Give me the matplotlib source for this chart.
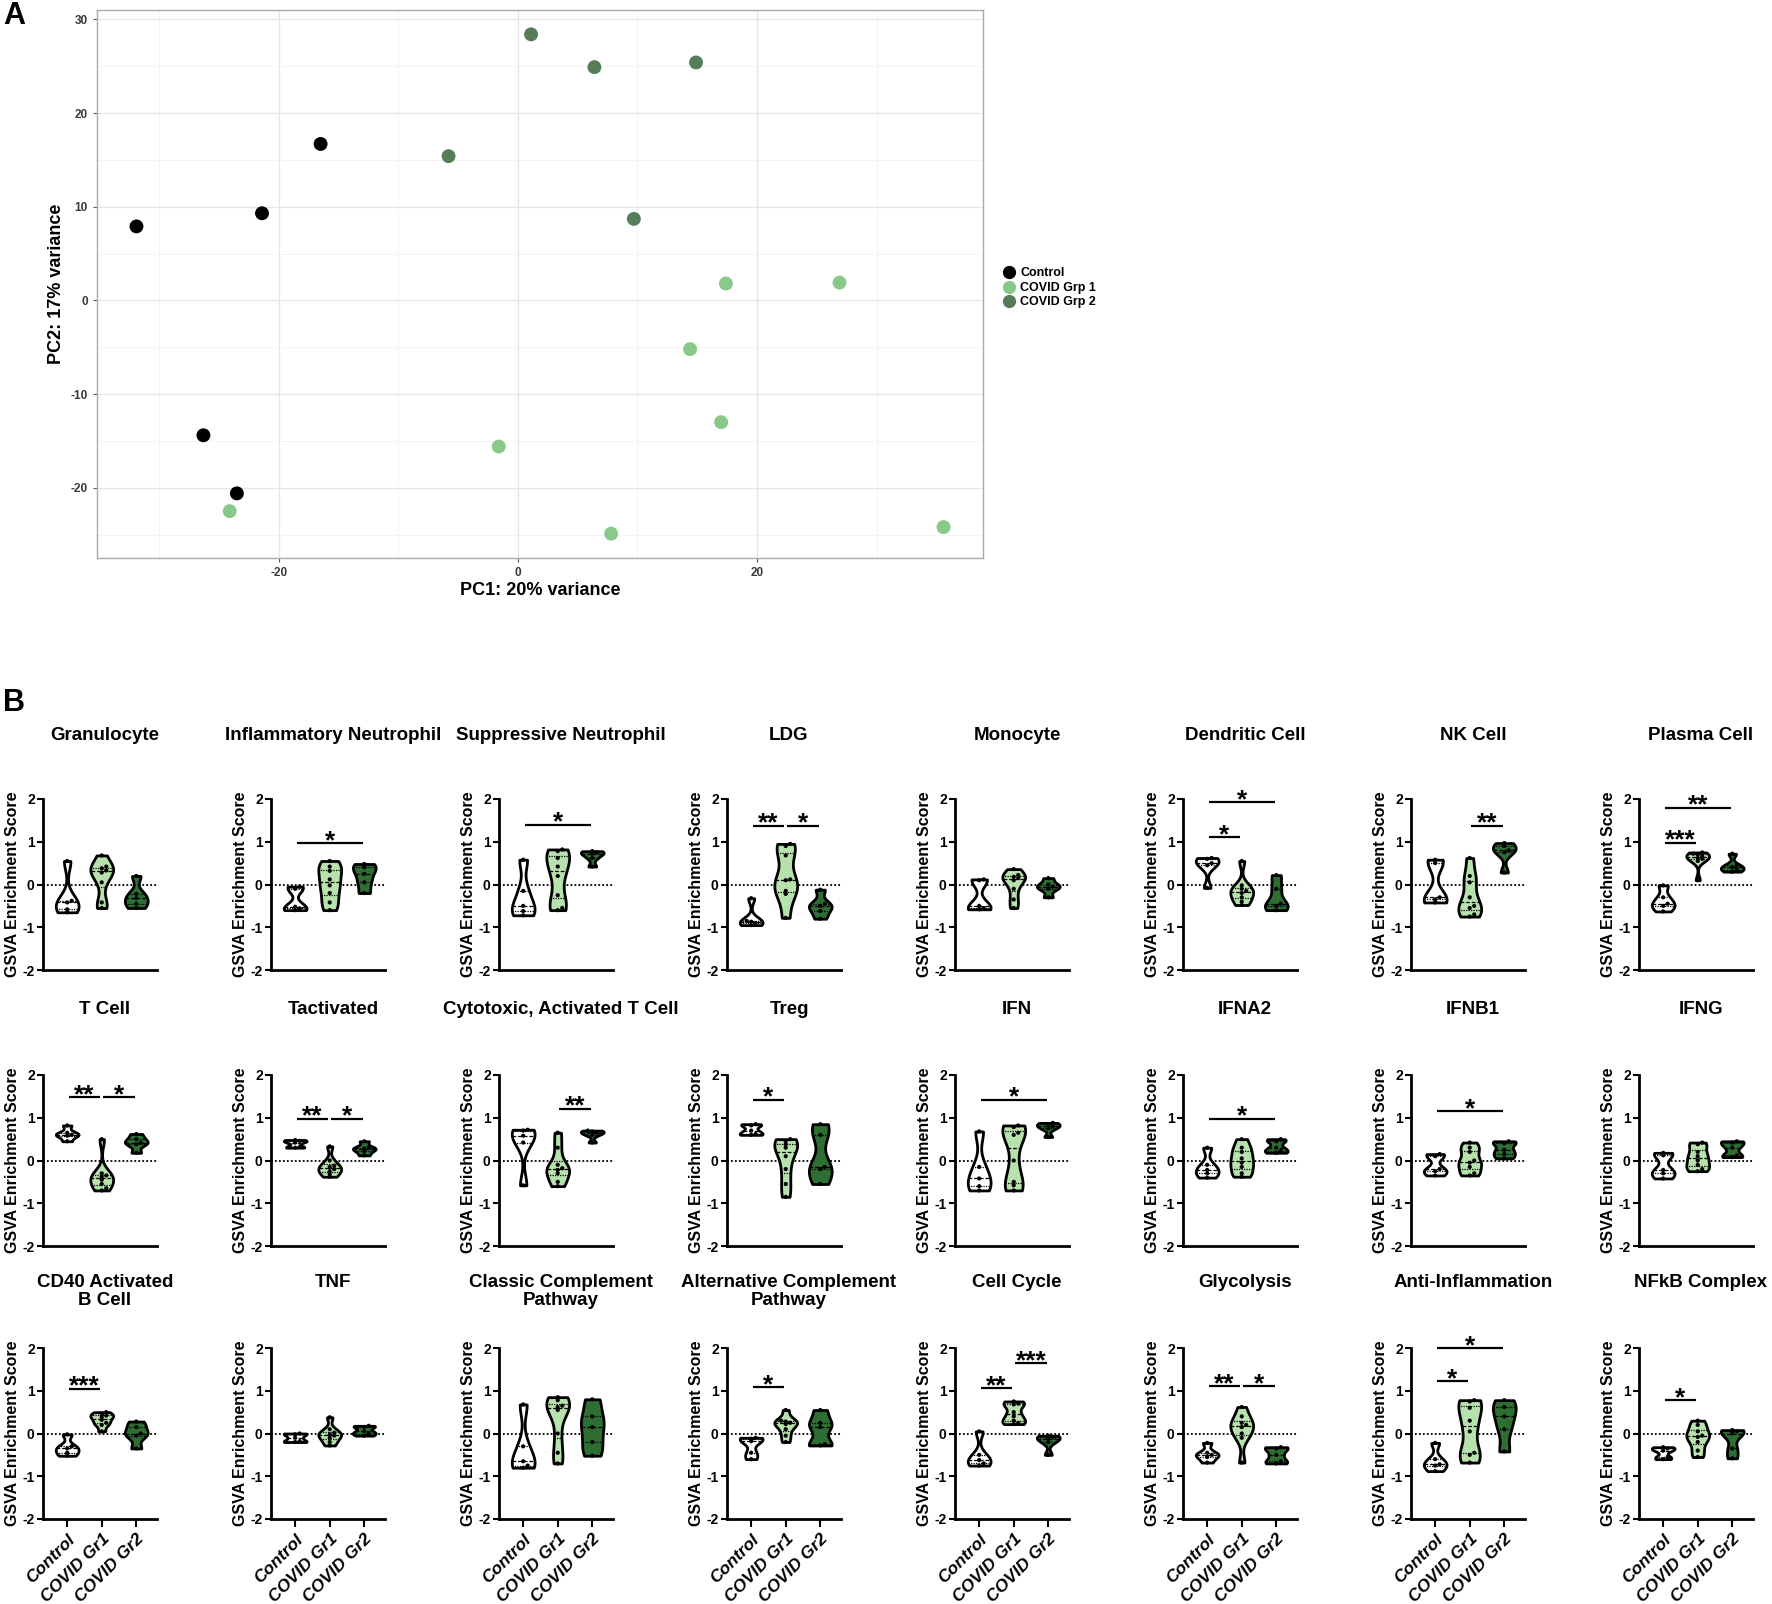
import numpy as np
import matplotlib
matplotlib.use('Agg')
import matplotlib.pyplot as plt
from matplotlib import cbook, mlab
from matplotlib.lines import Line2D

plt.rcParams['font.family'] = ['Liberation Sans', 'DejaVu Sans']
plt.rcParams['axes.unicode_minus'] = False

W, H = 1772, 1604

# ---------------- panel A: PCA ----------------
ctrl_pc1 = [-16.5, -21.4, -31.9, -26.3, -23.5]
ctrl_pc2 = [16.7, 9.3, 7.9, -14.4, -20.6]
grp1_pc1 = [17.4, 26.9, 14.4, 17.0, -1.6, -24.1, 7.8, 35.6]
grp1_pc2 = [1.8, 1.9, -5.2, -13.0, -15.6, -22.5, -24.9, -24.2]
grp2_pc1 = [1.1, 6.4, 14.9, -5.8, 9.7]
grp2_pc2 = [28.4, 24.9, 25.4, 15.4, 8.7]
pca_labels = ['Control', 'COVID Grp 1', 'COVID Grp 2']
pca_colors = ['#000000', '#88c98a', '#567d58']

# ---------------- panel B: GSVA violins ----------------
groups = ['Control', 'COVID Gr1', 'COVID Gr2']
titles = ['Granulocyte', 'Inflammatory Neutrophil', 'Suppressive Neutrophil', 'LDG',
          'Monocyte', 'Dendritic Cell', 'NK Cell', 'Plasma Cell',
          'T Cell', 'Tactivated', 'Cytotoxic, Activated T Cell', 'Treg',
          'IFN', 'IFNA2', 'IFNB1', 'IFNG',
          'CD40 Activated\nB Cell', 'TNF', 'Classic Complement\nPathway',
          'Alternative Complement\nPathway',
          'Cell Cycle', 'Glycolysis', 'Anti-Inflammation', 'NFkB Complex']

ctrl_scores = [
    [0.55, -0.38, -0.42, -0.58, -0.65],
    [-0.05, -0.1, -0.52, -0.56, -0.6],
    [0.58, -0.15, -0.5, -0.62, -0.72],
    [-0.32, -0.85, -0.87, -0.9, -0.95],
    [0.12, 0.1, -0.5, -0.55, -0.58],
    [0.62, 0.6, 0.5, 0.45, -0.08],
    [0.58, 0.5, -0.3, -0.35, -0.42],
    [-0.02, -0.3, -0.45, -0.5, -0.63],
    [0.82, 0.65, 0.6, 0.58, 0.45],
    [0.48, 0.46, 0.42, 0.32, 0.3],
    [0.72, 0.7, 0.58, 0.42, -0.58],
    [0.85, 0.82, 0.7, 0.62, 0.6],
    [0.68, -0.15, -0.42, -0.6, -0.7],
    [0.3, -0.1, -0.22, -0.3, -0.4],
    [0.15, 0.1, -0.2, -0.25, -0.35],
    [0.18, 0.12, -0.22, -0.3, -0.42],
    [-0.02, -0.3, -0.35, -0.45, -0.52],
    [0.0, -0.02, -0.1, -0.18, -0.2],
    [0.68, -0.3, -0.65, -0.75, -0.8],
    [-0.1, -0.12, -0.18, -0.45, -0.6],
    [0.05, -0.5, -0.62, -0.7, -0.75],
    [-0.22, -0.45, -0.5, -0.55, -0.68],
    [-0.22, -0.6, -0.72, -0.75, -0.88],
    [-0.32, -0.35, -0.4, -0.55, -0.6],
]
gr1_scores = [
    [0.68, 0.42, 0.38, 0.33, 0.28, 0.05, -0.42, -0.55],
    [0.55, 0.42, 0.32, 0.12, -0.02, -0.2, -0.42, -0.6],
    [0.82, 0.78, 0.62, 0.42, 0.2, -0.25, -0.55, -0.6],
    [0.95, 0.9, 0.68, 0.12, 0.1, -0.15, -0.22, -0.78],
    [0.36, 0.22, 0.18, 0.15, 0.1, -0.1, -0.35, -0.55],
    [0.55, -0.02, -0.1, -0.15, -0.2, -0.3, -0.4, -0.48],
    [0.62, 0.2, 0.05, -0.3, -0.5, -0.55, -0.7, -0.75],
    [0.75, 0.72, 0.7, 0.66, 0.62, 0.6, 0.55, 0.1],
    [0.5, -0.3, -0.35, -0.38, -0.45, -0.55, -0.65, -0.7],
    [0.33, 0.0, -0.12, -0.15, -0.2, -0.25, -0.32, -0.38],
    [0.65, 0.3, -0.1, -0.18, -0.22, -0.3, -0.5, -0.6],
    [0.5, 0.45, 0.38, 0.3, 0.1, -0.2, -0.55, -0.85],
    [0.82, 0.78, 0.65, 0.6, 0.0, -0.5, -0.58, -0.7],
    [0.5, 0.3, 0.2, 0.05, -0.05, -0.15, -0.3, -0.38],
    [0.42, 0.3, 0.2, 0.0, -0.05, -0.15, -0.3, -0.35],
    [0.42, 0.38, 0.2, 0.1, 0.0, -0.1, -0.2, -0.25],
    [0.5, 0.45, 0.42, 0.38, 0.32, 0.25, 0.2, 0.05],
    [0.38, 0.1, 0.02, -0.02, -0.05, -0.1, -0.2, -0.28],
    [0.85, 0.78, 0.65, 0.62, 0.55, 0.0, -0.45, -0.7],
    [0.55, 0.3, 0.28, 0.25, 0.22, 0.1, -0.05, -0.2],
    [0.75, 0.7, 0.68, 0.5, 0.4, 0.3, 0.25, 0.22],
    [0.62, 0.4, 0.25, 0.2, 0.15, 0.0, -0.1, -0.68],
    [0.78, 0.75, 0.6, 0.3, 0.05, -0.45, -0.5, -0.68],
    [0.3, 0.2, 0.05, -0.05, -0.08, -0.2, -0.4, -0.55],
]
gr2_scores = [
    [0.2, -0.22, -0.32, -0.45, -0.55],
    [0.48, 0.4, 0.25, 0.05, -0.2],
    [0.78, 0.75, 0.72, 0.62, 0.42],
    [-0.12, -0.45, -0.5, -0.62, -0.8],
    [0.15, 0.0, -0.05, -0.1, -0.3],
    [0.22, -0.1, -0.45, -0.5, -0.6],
    [0.97, 0.9, 0.8, 0.75, 0.28],
    [0.72, 0.45, 0.4, 0.35, 0.3],
    [0.62, 0.5, 0.42, 0.38, 0.18],
    [0.45, 0.3, 0.28, 0.22, 0.12],
    [0.7, 0.68, 0.65, 0.6, 0.42],
    [0.85, 0.6, -0.15, -0.2, -0.55],
    [0.88, 0.85, 0.8, 0.75, 0.55],
    [0.5, 0.45, 0.3, 0.22, 0.18],
    [0.45, 0.4, 0.25, 0.15, 0.05],
    [0.45, 0.42, 0.3, 0.12, 0.08],
    [0.28, 0.15, 0.0, -0.05, -0.35],
    [0.18, 0.15, 0.05, 0.0, -0.05],
    [0.8, 0.4, 0.15, -0.2, -0.52],
    [0.55, 0.25, 0.15, -0.25, -0.28],
    [-0.05, -0.08, -0.12, -0.2, -0.5],
    [-0.32, -0.35, -0.5, -0.65, -0.7],
    [0.78, 0.62, 0.4, 0.1, -0.42],
    [0.08, 0.05, 0.0, -0.35, -0.58],
]
# (group a, group b, bar height, stars)
sig_bars = [
    [], [(0, 2, 0.97, '*')], [(0, 2, 1.4, '*')],
    [(0, 1, 1.38, '**'), (1, 2, 1.38, '*')],
    [], [(0, 1, 1.1, '*'), (0, 2, 1.92, '*')], [(1, 2, 1.37, '**')],
    [(0, 1, 0.98, '***'), (0, 2, 1.8, '**')],
    [(0, 1, 1.48, '**'), (1, 2, 1.48, '*')],
    [(0, 1, 0.98, '**'), (1, 2, 0.98, '*')],
    [(1, 2, 1.21, '**')], [(0, 1, 1.42, '*')],
    [(0, 2, 1.42, '*')], [(0, 2, 0.98, '*')], [(0, 2, 1.15, '*')], [],
    [(0, 1, 1.05, '***')], [], [], [(0, 1, 1.08, '*')],
    [(0, 1, 1.06, '**'), (1, 2, 1.64, '***')],
    [(0, 1, 1.1, '**'), (1, 2, 1.1, '*')],
    [(0, 1, 1.22, '*'), (0, 2, 2.0, '*')],
    [(0, 1, 0.78, '*')],
]
violin_fill = ['#ffffff', '#b7e1ad', '#2e6e33']

fig = plt.figure(figsize=(W / 100, H / 100), dpi=100)


def px_axes(left, top, width, height):
    return fig.add_axes([left / W, 1 - (top + height) / H, width / W, height / H])


# ---------- A ----------
ax = px_axes(97, 10, 886, 548)
ax.set_facecolor('white')
for xs, ys, col, lab in zip([ctrl_pc1, grp1_pc1, grp2_pc1], [ctrl_pc2, grp1_pc2, grp2_pc2],
                            pca_colors, pca_labels):
    ax.scatter(xs, ys, s=100, color=col, edgecolors='none', label=lab, zorder=3)
ax.set_xlim(-35.2, 38.9)
ax.set_ylim(-27.5, 31.0)
ax.set_xticks([-20, 0, 20])
ax.set_yticks([-20, -10, 0, 10, 20, 30])
ax.set_xticks([-30, -10, 10, 30], minor=True)
ax.set_yticks([-25, -15, -5, 5, 15, 25], minor=True)
ax.grid(True, which='major', color='#e6e6e6', lw=1.0, zorder=0)
ax.grid(True, which='minor', color='#f2f2f2', lw=0.6, zorder=0)
ax.set_axisbelow(True)
ax.tick_params(which='minor', length=0)
ax.tick_params(which='major', length=3, color='#555555', labelsize=8.5, labelcolor='#3a3a3a')
for lbl in ax.get_xticklabels() + ax.get_yticklabels():
    lbl.set_fontweight('bold')
for sp in ax.spines.values():
    sp.set_color('#aaaaaa')
    sp.set_linewidth(1.0)
ax.set_xlabel('PC1: 20% variance', fontsize=13, fontweight='bold', labelpad=2)
ax.set_ylabel('PC2: 17% variance', fontsize=13, fontweight='bold', labelpad=4)
handles = [Line2D([], [], marker='o', ls='none', color=c, markersize=8.5) for c in pca_colors]
fig.legend(handles, pca_labels, loc='center left', bbox_to_anchor=(998 / W, 1 - 288 / H),
           frameon=False, handlelength=0.8, handletextpad=0.5, labelspacing=0.2,
           borderpad=0, prop={'size': 9, 'weight': 'bold'})

fig.text(14 / W, 1 - 16 / H, 'A', fontsize=22, fontweight='bold', va='center', ha='center')
fig.text(14 / W, 1 - 703 / H, 'B', fontsize=22, fontweight='bold', va='center', ha='center')

# ---------- B ----------
BW = 0.45
VW = 0.66


def kde(X, coords):
    return mlab.GaussianKDE(X, BW).evaluate(coords)


def swarm(v, step=0.13, tol=0.06):
    v = np.asarray(v)
    xs = np.zeros(len(v))
    placed = []
    for idx in np.argsort(v):
        near = [xs[j] for j in placed if abs(v[j] - v[idx]) < tol]
        for cand in (0.0, step, -step, 2 * step, -2 * step):
            if all(abs(cand - o) > step * 0.5 for o in near):
                break
        xs[idx] = cand
        placed.append(idx)
    return xs


row_top = [799, 1075, 1348]
title_top = [727, 1001, 1274]
for k, title in enumerate(titles):
    r, c = divmod(k, 8)
    left = 43 + 228 * c
    ax = px_axes(left, row_top[r], 114, 171)
    data = [ctrl_scores[k], gr1_scores[k], gr2_scores[k]]
    stats = cbook.violin_stats(data, kde, points=200)
    parts = ax.violin(stats, positions=[0, 1, 2], widths=VW,
                      showmeans=False, showextrema=False)
    for body, fc in zip(parts['bodies'], violin_fill):
        body.set_facecolor(fc)
        body.set_edgecolor('black')
        body.set_linewidth(2.0)
        body.set_alpha(1)
        body.set_zorder(2)
    for p, (st, vals) in enumerate(zip(stats, data)):
        q1, med, q3 = np.percentile(vals, [25, 50, 75])
        for q, ls in ((q1, (0, (1, 1))), (med, (0, (3, 1.5))), (q3, (0, (1, 1)))):
            hw = np.interp(q, st['coords'], st['vals']) / st['vals'].max() * VW / 2
            ax.plot([p - hw, p + hw], [q, q], color='black', ls=ls, lw=0.9, zorder=3)
        ax.scatter(p + swarm(vals), vals, s=9, color='black', zorder=4, edgecolors='none')
    ax.axhline(0, color='black', ls=(0, (1, 1.2)), lw=1.3, zorder=1)
    for a, b, y, stars in sig_bars[k]:
        ax.plot([a + 0.05, b - 0.05], [y, y], color='black', lw=1.6, clip_on=False,
                solid_capstyle='butt')
        ax.annotate(stars, xy=((a + b) / 2, y), xytext=(0, -3.5), textcoords='offset points',
                    ha='center', va='baseline', fontsize=19, fontweight='bold',
                    annotation_clip=False)
    ax.set_xlim(-0.7, 2.6)
    ax.set_ylim(-2, 2)
    ax.set_yticks([-2, -1, 0, 1, 2])
    ax.set_yticklabels(['-2', '-1', '0', '1', '2'], fontweight='bold', fontsize=10)
    for side in ('top', 'right'):
        ax.spines[side].set_visible(False)
    for side in ('left', 'bottom'):
        ax.spines[side].set_linewidth(2.0)
    ax.tick_params(axis='y', length=4, width=1.5, pad=2)
    if r == 2:
        ax.set_xticks([0, 1, 2])
        ax.set_xticklabels(groups, rotation=45, ha='right', rotation_mode='anchor',
                           fontsize=12.5, fontweight='bold', fontstyle='italic')
        ax.tick_params(axis='x', length=6, width=1.5, pad=3)
    else:
        ax.set_xticks([])
    ax.set_ylabel('GSVA Enrichment Score', fontsize=11.5, fontweight='bold', labelpad=2)
    fig.text((left + 62) / W, 1 - title_top[r] / H, title, ha='center', va='top',
             fontsize=13.5, fontweight='bold', linespacing=1.1)

fig.savefig('out.png', dpi=100)
